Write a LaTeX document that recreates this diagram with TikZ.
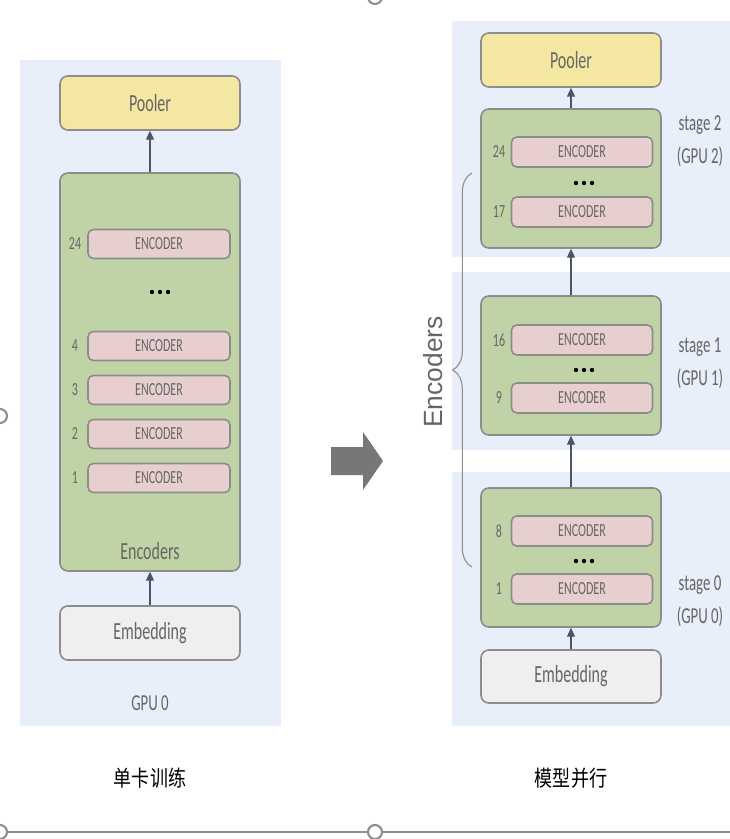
\documentclass[tikz,border=0pt]{standalone}
\usepackage{fontspec}
\setmainfont{Carlito}[FakeStretch=0.65]
\newfontfamily\bracefont{Liberation Sans}
\newfontfamily\cjkfont{Noto Sans CJK SC}[FakeStretch=0.82]
\usetikzlibrary{arrows.meta,decorations.pathreplacing}

\definecolor{bandfill}{HTML}{E8EEFA}
\definecolor{poolerfill}{HTML}{F4E7A1}
\definecolor{groupfill}{HTML}{C0D3A6}
\definecolor{encfill}{HTML}{E8CFCF}
\definecolor{embfill}{HTML}{EFEFEF}
\definecolor{boxline}{HTML}{8C8C8C}
\definecolor{txtgray}{HTML}{666666}
\definecolor{flowcol}{HTML}{4A5566}
\definecolor{bigarrowcol}{HTML}{777777}
\definecolor{handlecol}{HTML}{8E8E8E}

\newcommand{\pxu}{0.02cm}

\tikzset{
  box/.style={draw=boxline,line width=0.9pt,rounded corners=4.5pt,inner sep=0pt,
    text=txtgray,font=\fontsize{14}{16}\selectfont},
  poolerbox/.style={box,fill=poolerfill,minimum width=180*\pxu,minimum height=54*\pxu},
  embbox/.style={box,fill=embfill,minimum width=180*\pxu,minimum height=54*\pxu},
  groupbox/.style={box,fill=groupfill,minimum width=180*\pxu},
  encbox/.style={box,fill=encfill,rounded corners=3pt,minimum width=142*\pxu,
    minimum height=29*\pxu,font=\fontsize{10.5}{12}\selectfont},
  numlbl/.style={text=txtgray,font=\fontsize{10.5}{12}\selectfont,inner sep=0pt},
  stagelbl/.style={text=txtgray,font=\fontsize{13}{15}\selectfont,align=center,inner sep=0pt},
  caption/.style={font=\cjkfont\fontsize{12.5}{14}\selectfont,inner sep=0pt},
  flow/.style={-{Triangle[length=5pt,width=4.5pt]},draw=flowcol,line width=0.6pt},
  handle/.style={draw=handlecol,line width=1.2pt,fill=white}
}

\begin{document}
\begin{tikzpicture}[x=0.02cm,y=-0.02cm]
  \useasboundingbox (0,0) rectangle (730,839);

  % Bandeaux de fond
  \fill[bandfill] (20,60) rectangle (281,726);
  \fill[bandfill] (452,21) rectangle (730,257);
  \fill[bandfill] (452,272) rectangle (730,450);
  \fill[bandfill] (452,472) rectangle (730,726);

  % Gauche : une seule carte
  \node[poolerbox] (pool0) at (150,103) {Pooler};
  \node[groupbox,minimum height=398*\pxu] (grp0) at (150,372) {};
  \foreach \n/\y in {24/244,4/346,3/390,2/434,1/478} {
    \node[encbox] (enc0-\n) at (159,\y) {ENCODER};
    \node[numlbl] at (75,\y) {\n};
  }
  \foreach \d in {-8,0,8}
    \fill (160+\d,292) circle (2.2);
  \node[text=txtgray,font=\fontsize{14}{16}\selectfont] (encname) at (150,551) {Encoders};
  \node[embbox] (emb0) at (150,633) {Embedding};
  \node[stagelbl] (gpu0) at (150,703) {GPU 0};
  \node[caption] (cap0) at (150,778) {单卡训练};

  \draw[flow] (grp0.north) -- (pool0.south);
  \draw[flow] (emb0.north) -- (grp0.south);

  % Grande flèche
  \fill[bigarrowcol] (331,447) -- (363,447) -- (363,432) -- (383,461)
    -- (363,490) -- (363,475) -- (331,475) -- cycle;

  % Droite : parallélisme de modèle
  \node[poolerbox] (pool1) at (571,60) {Pooler};
  \node[groupbox,minimum height=139*\pxu] (stg2) at (571,178.5) {};
  \node[groupbox,minimum height=139*\pxu] (stg1) at (571,365.5) {};
  \node[groupbox,minimum height=139*\pxu] (stg0) at (571,557.5) {};
  \foreach \n/\y in {24/152,17/212,16/340,9/398,8/531,1/589} {
    \node[encbox,minimum height=30*\pxu,minimum width=141*\pxu] (enc1-\n) at (582,\y) {ENCODER};
    \node[numlbl] at (499,\y) {\n};
  }
  \foreach \y in {183,370,561}
    \foreach \d in {-8,0,8}
      \fill (584+\d,\y) circle (2.2);
  \node[embbox,minimum height=53*\pxu] (emb1) at (571,676.5) {Embedding};

  \node[stagelbl] (lbl2) at (700,141) {stage 2\\[4pt](GPU 2)};
  \node[stagelbl] (lbl1) at (700,363) {stage 1\\[4pt](GPU 1)};
  \node[stagelbl] (lbl0) at (700,601) {stage 0\\[4pt](GPU 0)};

  \draw[flow] (stg2.north) -- (pool1.south);
  \draw[flow] (stg1.north) -- (stg2.south);
  \draw[flow] (stg0.north) -- (stg1.south);
  \draw[flow] (emb1.north) -- (stg0.south);

  % Accolade Encoders
  \draw[draw=boxline,line width=0.6pt,decorate,decoration={brace,amplitude=11pt}]
    (472,567) -- (472,173);
  \node[rotate=90,text=txtgray,font=\bracefont\fontsize{15}{18}\selectfont] (bracelbl) at (433,372) {Encoders};

  \node[caption] (cap1) at (571,778) {模型并行};

  % Poignées de sélection
  \draw[draw=handlecol,line width=1.5pt] (0,832) -- (730,832);
  \draw[handle] (375,-3) circle (7);
  \draw[handle] (0,416) circle (7);
  \draw[handle] (0,832) circle (7);
  \draw[handle] (375,832) circle (7);
\end{tikzpicture}
\end{document}
